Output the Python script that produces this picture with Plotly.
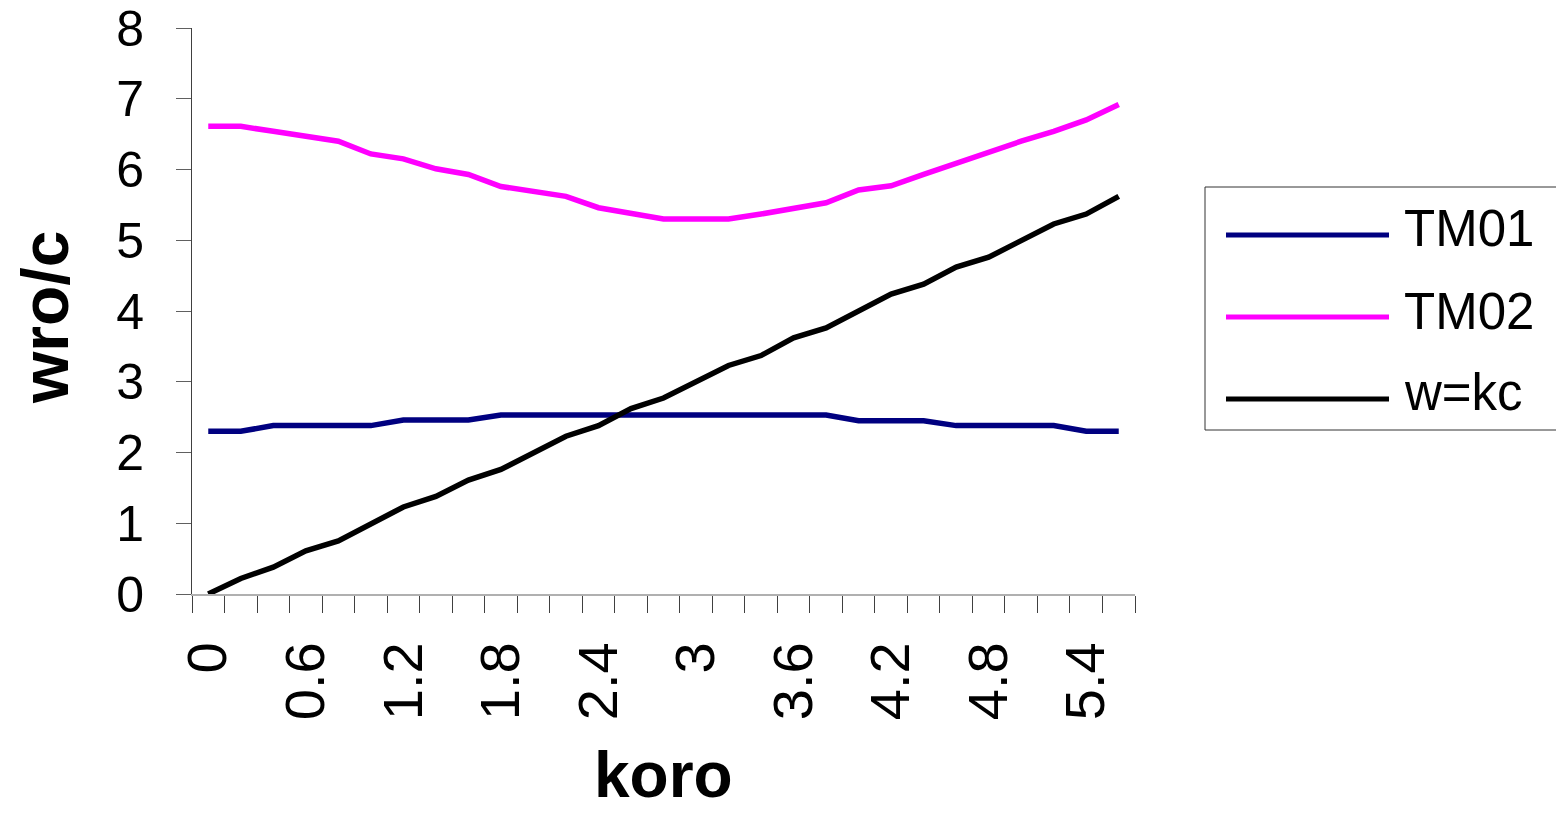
import plotly.graph_objects as go

# Normalised wavenumber (koro) sampled every 0.2
koro = [0.0, 0.2, 0.4, 0.6, 0.8, 1.0, 1.2, 1.4, 1.6, 1.8,
        2.0, 2.2, 2.4, 2.6, 2.8, 3.0, 3.2, 3.4, 3.6, 3.8,
        4.0, 4.2, 4.4, 4.6, 4.8, 5.0, 5.2, 5.4, 5.6]

# Normalised frequency (wro/c) of each branch
tm01 = [2.30, 2.30, 2.38, 2.38, 2.38, 2.38, 2.46, 2.46, 2.46, 2.53,
        2.53, 2.53, 2.53, 2.53, 2.53, 2.53, 2.53, 2.53, 2.53, 2.53,
        2.45, 2.45, 2.45, 2.38, 2.38, 2.38, 2.38, 2.30, 2.30]
tm02 = [6.61, 6.61, 6.54, 6.47, 6.40, 6.22, 6.15, 6.01, 5.93, 5.76,
        5.69, 5.62, 5.46, 5.38, 5.30, 5.30, 5.30, 5.37, 5.46, 5.53,
        5.71, 5.77, 5.93, 6.09, 6.26, 6.40, 6.54, 6.70, 6.92]
light = [0.00, 0.22, 0.38, 0.61, 0.75, 0.99, 1.23, 1.38, 1.61, 1.76,
         2.00, 2.23, 2.38, 2.62, 2.77, 3.00, 3.23, 3.37, 3.62, 3.76,
         4.00, 4.24, 4.38, 4.62, 4.76, 5.00, 5.23, 5.37, 5.62]

series_names = ["TM01", "TM02", "w=kc"]
series_colors = ["#000080", "#FF00FF", "#000000"]
series_values = [tm01, tm02, light]

# Labelled categories along the x axis
tick_values = koro[::3]
tick_labels = ["0", "0.6", "1.2", "1.8", "2.4", "3", "3.6", "4.2", "4.8", "5.4"]

FONT = "Liberation Sans, Arial, sans-serif"
W, H = 1556, 818
L, R, T, B = 192, 421, 28, 224
PW, PH = W - L - R, H - T - B


def px(x):
    return (x - L) / PW


def py(y):
    return (H - B - y) / PH


fig = go.Figure()
for name, color, vals in zip(series_names, series_colors, series_values):
    fig.add_trace(go.Scatter(
        x=koro, y=vals, mode="lines", name=name,
        line=dict(color=color, width=5.5), showlegend=False,
    ))

fig.update_layout(
    width=W, height=H,
    margin=dict(l=L, r=R, t=T, b=B, autoexpand=False),
    paper_bgcolor="white", plot_bgcolor="white",
    font=dict(family=FONT, color="black"),
)

fig.update_xaxes(
    range=[-0.1, 5.7], showgrid=False, zeroline=False, automargin=False,
    showline=True, linecolor="#b0b0b0", linewidth=2,
    tickmode="array", tickvals=tick_values, ticktext=tick_labels,
    ticks="", tickangle=-90, tickfont=dict(size=56, family=FONT),
    ticklabelstandoff=24,
    minor=dict(ticks="outside", ticklen=17, tickwidth=1, tickcolor="#404040",
               tick0=-0.1, dtick=0.2, showgrid=False),
)
fig.update_yaxes(
    range=[0, 8], dtick=1, showgrid=False, zeroline=False, automargin=False,
    showline=True, linecolor="#404040", linewidth=1,
    ticks="outside", ticklen=15, tickwidth=1, tickcolor="#606060",
    tickfont=dict(size=50, family=FONT), ticklabelstandoff=22,
)

# Axis titles
fig.add_annotation(text="<b>wro/c</b>", xref="paper", yref="paper",
                   x=px(45), y=py(318), xanchor="center", yanchor="middle",
                   textangle=-90, showarrow=False,
                   font=dict(size=66, family=FONT, color="black"))
fig.add_annotation(text="<b>koro</b>", xref="paper", yref="paper",
                   x=px(663), y=py(775), xanchor="center", yanchor="middle",
                   showarrow=False,
                   font=dict(size=64, family=FONT, color="black"))

# Legend box with long line samples
fig.add_shape(type="rect", xref="paper", yref="paper",
              x0=px(1205), x1=px(1570), y0=py(187), y1=py(430),
              line=dict(color="#333333", width=1), fillcolor="white")
legend_rows = [235, 317, 399]
for name, color, yrow in zip(series_names, series_colors, legend_rows):
    fig.add_shape(type="line", xref="paper", yref="paper",
                  x0=px(1226), x1=px(1389), y0=py(yrow), y1=py(yrow),
                  line=dict(color=color, width=5))
    fig.add_annotation(text=name, xref="paper", yref="paper",
                       x=px(1402), y=py(yrow - 6), xanchor="left", yanchor="middle",
                       showarrow=False,
                       font=dict(size=51, family=FONT, color="black"))

fig.write_html("out.html")
